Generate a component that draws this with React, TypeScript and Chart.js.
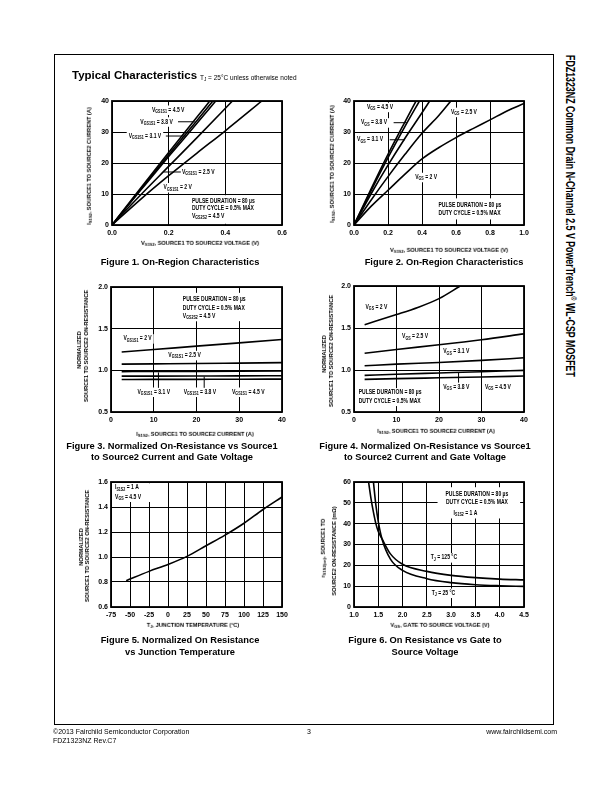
import React, { useEffect, useRef } from 'react';
import { Chart, registerables } from 'chart.js';
Chart.register(...registerables);

const FONT = '"Liberation Sans", Arial, Helvetica, sans-serif';

// ---------------- Figure 1: On-Region (V_GS2S2 = 4.5 V) ----------------
const fig1XTicks = [0, 0.2, 0.4, 0.6];
const fig1YTicks = [0, 10, 20, 30, 40];
const fig1Vgs45X = [0, 0.1, 0.2, 0.3, 0.345];
const fig1Vgs45Y = [0, 11.8, 23.4, 34.8, 40];
const fig1Vgs38X = [0, 0.1, 0.2, 0.3, 0.356];
const fig1Vgs38Y = [0, 11.4, 22.7, 33.7, 40];
const fig1Vgs31X = [0, 0.1, 0.2, 0.3, 0.366];
const fig1Vgs31Y = [0, 11.1, 22.1, 32.8, 40];
const fig1Vgs25X = [0, 0.1, 0.2, 0.3, 0.425];
const fig1Vgs25Y = [0, 9.6, 18.9, 28.2, 40];
const fig1Vgs20X = [0, 0.1, 0.2, 0.3, 0.4, 0.529];
const fig1Vgs20Y = [0, 8.2, 15.9, 23.2, 30.4, 40];

// ---------------- Figure 2: On-Region ----------------
const fig2XTicks = [0, 0.2, 0.4, 0.6, 0.8, 1.0];
const fig2YTicks = [0, 10, 20, 30, 40];
const fig2Vgs45X = [0, 0.1, 0.2, 0.3, 0.365];
const fig2Vgs45Y = [0, 11.6, 22.8, 33.3, 40];
const fig2Vgs38X = [0, 0.1, 0.2, 0.3, 0.385];
const fig2Vgs38Y = [0, 11.0, 21.7, 31.8, 40];
const fig2Vgs31X = [0, 0.1, 0.2, 0.3, 0.4, 0.445];
const fig2Vgs31Y = [0, 10.0, 19.3, 28.0, 36.2, 40];
const fig2Vgs25X = [0, 0.1, 0.2, 0.3, 0.4, 0.5, 0.57];
const fig2Vgs25Y = [0, 8.0, 15.6, 22.8, 29.6, 35.4, 40];
const fig2Vgs20X = [0, 0.1, 0.2, 0.3, 0.4, 0.5, 0.6, 0.7, 0.8, 0.9, 1.0];
const fig2Vgs20Y = [0, 6.0, 11.2, 16.4, 21.3, 25.0, 28.2, 31.1, 33.9, 36.8, 39.2];

// ---------------- Figure 3: Normalized R vs current (V_GS2S2 = 4.5 V) ----------------
const fig3XTicks = [0, 10, 20, 30, 40];
const fig3YTicks = [0.5, 1.0, 1.5, 2.0];
const fig3Current = [2.5, 10, 20, 30, 40];
const fig3Vgs20 = [1.22, 1.25, 1.29, 1.33, 1.37];
const fig3Vgs25 = [1.075, 1.078, 1.082, 1.087, 1.092];
const fig3Vgs31 = [0.985, 0.986, 0.988, 0.99, 0.992];
const fig3Vgs38 = [0.93, 0.931, 0.932, 0.933, 0.935];
const fig3Vgs45 = [0.89, 0.891, 0.892, 0.893, 0.895];

// ---------------- Figure 4: Normalized R vs current ----------------
const fig4XTicks = [0, 10, 20, 30, 40];
const fig4YTicks = [0.5, 1.0, 1.5, 2.0];
const fig4Vgs20X = [2.5, 5, 10, 15, 20, 25];
const fig4Vgs20Y = [1.54, 1.58, 1.66, 1.745, 1.85, 2.0];
const fig4Current = [2.5, 10, 20, 30, 40];
const fig4Vgs25 = [1.2, 1.245, 1.3, 1.36, 1.43];
const fig4Vgs31 = [1.05, 1.07, 1.09, 1.115, 1.145];
const fig4Vgs38 = [0.936, 0.95, 0.965, 0.98, 0.996];
const fig4Vgs45 = [0.888, 0.897, 0.907, 0.917, 0.928];

// ---------------- Figure 5: Normalized R vs T_J ----------------
const fig5XTicks = [-75, -50, -25, 0, 25, 50, 75, 100, 125, 150];
const fig5YTicks = [0.6, 0.8, 1.0, 1.2, 1.4, 1.6];
const fig5Temp = [-55, -25, 0, 25, 50, 75, 100, 125, 150];
const fig5Rnorm = [0.81, 0.885, 0.94, 1.005, 1.09, 1.175, 1.27, 1.38, 1.48];

// ---------------- Figure 6: R vs V_GS ----------------
const fig6XTicks = [1.0, 1.5, 2.0, 2.5, 3.0, 3.5, 4.0, 4.5];
const fig6YTicks = [0, 10, 20, 30, 40, 50, 60];
const fig6T125X = [1.3, 1.35, 1.4, 1.45, 1.5, 1.575, 1.75, 2.0, 2.5, 3.0, 3.5, 4.0, 4.5];
const fig6T125Y = [60, 52, 45.5, 40, 36.2, 32.8, 25.5, 20.5, 17.1, 15.2, 14.1, 13.4, 13.0];
const fig6T25X = [1.4, 1.45, 1.5, 1.575, 1.75, 2.0, 2.5, 3.0, 3.5, 4.0, 4.5];
const fig6T25Y = [60, 49, 41, 32.8, 23, 17.6, 13.6, 11.7, 10.7, 10.2, 9.9];

// ---------------------------------------------------------------
type Txt = { x: number; y: number; t: string; align?: 'left' | 'center' | 'right'; box?: boolean };
type Rect = [number, number, number, number];
type Seg = [number, number, number, number];
interface Fig {
  xs: number[][];
  ys: number[][];
  xTicks: number[];
  yTicks: number[];
  xDec: number;
  yDec: number;
  texts: Txt[];
  boxes: Rect[];
  leaders: Seg[];
}

const SZ = 6.3;
const SX = 0.8;

function parseRich(t: string): [string, boolean][] {
  const out: [string, boolean][] = [];
  const re = /_\{([^}]*)\}/g;
  let last = 0;
  let m: RegExpExecArray | null;
  while ((m = re.exec(t))) {
    if (m.index > last) out.push([t.slice(last, m.index), false]);
    out.push([m[1], true]);
    last = re.lastIndex;
  }
  if (last < t.length) out.push([t.slice(last), false]);
  return out;
}

function measureRich(ctx: CanvasRenderingContext2D, t: string) {
  let w = 0;
  for (const [s, sub] of parseRich(t)) {
    ctx.font = `bold ${sub ? SZ * 0.72 : SZ}px ${FONT}`;
    w += ctx.measureText(s).width * SX;
  }
  return w;
}

function drawRich(ctx: CanvasRenderingContext2D, t: string, px: number, py: number) {
  let x = px;
  ctx.textBaseline = 'middle';
  ctx.textAlign = 'left';
  ctx.fillStyle = '#000';
  for (const [s, sub] of parseRich(t)) {
    ctx.font = `bold ${sub ? SZ * 0.72 : SZ}px ${FONT}`;
    const w = ctx.measureText(s).width * SX;
    ctx.save();
    ctx.translate(x, py + (sub ? SZ * 0.3 : 0));
    ctx.scale(SX, 1);
    ctx.fillText(s, 0, 0);
    ctx.restore();
    x += w;
  }
}

function annot(fig: Fig) {
  const left = (ctx: CanvasRenderingContext2D, tx: Txt, px: number) => {
    const w = measureRich(ctx, tx.t);
    return { l: tx.align === 'center' ? px - w / 2 : tx.align === 'right' ? px - w : px, w };
  };
  return {
    id: 'annot',
    beforeDatasetsDraw(chart: any) {
      const { ctx, chartArea: ca } = chart;
      const xs = chart.scales.x;
      const ys = chart.scales.y;
      ctx.save();
      ctx.beginPath();
      ctx.rect(ca.left + 1, ca.top + 1, ca.width - 2, ca.height - 2);
      ctx.clip();
      ctx.fillStyle = '#fff';
      for (const [x1, y1, x2, y2] of fig.boxes) {
        const a = xs.getPixelForValue(x1);
        const b = xs.getPixelForValue(x2);
        const c = ys.getPixelForValue(y2);
        const d = ys.getPixelForValue(y1);
        ctx.fillRect(a, c, b - a, d - c);
      }
      for (const tx of fig.texts) {
        if (tx.box === false) continue;
        const px = xs.getPixelForValue(tx.x);
        const py = ys.getPixelForValue(tx.y);
        const { l, w } = left(ctx, tx, px);
        ctx.fillStyle = '#fff';
        ctx.fillRect(l - 2, py - 4.5, w + 4, 9.5);
      }
      ctx.restore();
    },
    afterDatasetsDraw(chart: any) {
      const { ctx, chartArea: ca } = chart;
      const xs = chart.scales.x;
      const ys = chart.scales.y;
      ctx.save();
      ctx.strokeStyle = '#000';
      ctx.lineWidth = 1;
      for (const [x1, y1, x2, y2] of fig.leaders) {
        ctx.beginPath();
        ctx.moveTo(xs.getPixelForValue(x1), ys.getPixelForValue(y1));
        ctx.lineTo(xs.getPixelForValue(x2), ys.getPixelForValue(y2));
        ctx.stroke();
      }
      for (const tx of fig.texts) {
        const px = xs.getPixelForValue(tx.x);
        const py = ys.getPixelForValue(tx.y);
        const { l } = left(ctx, tx, px);
        drawRich(ctx, tx.t, l, py);
      }
      ctx.lineWidth = 1.8;
      ctx.strokeRect(ca.left, ca.top, ca.width, ca.height);
      ctx.restore();
    },
  };
}

const PL = 2;
const AXW = 26;
const PT = 8;
const PR = 12;
const AXH = 16;
const PB = 2;

function Plot({ fig, l, t, w, h }: { fig: Fig; l: number; t: number; w: number; h: number }) {
  const ref = useRef<HTMLCanvasElement>(null);
  const W = w + AXW + PL + PR;
  const H = h + PT + AXH + PB;
  useEffect(() => {
    const c = ref.current!;
    const tickFont = { family: FONT, size: 7, weight: 'bold' as const };
    const chart = new Chart(c, {
      type: 'line',
      data: {
        datasets: fig.xs.map((xs, i) => ({
          data: xs.map((x, j) => ({ x, y: fig.ys[i][j] })),
          borderColor: '#000',
          borderWidth: 1.6,
          pointRadius: 0,
          fill: false,
          cubicInterpolationMode: 'monotone' as const,
        })),
      },
      options: {
        responsive: false,
        animation: false,
        devicePixelRatio: 1,
        events: [],
        layout: { padding: { left: PL, top: PT, right: PR, bottom: PB } },
        plugins: { legend: { display: false }, tooltip: { enabled: false } },
        scales: {
          x: {
            type: 'linear',
            min: fig.xTicks[0],
            max: fig.xTicks[fig.xTicks.length - 1],
            afterBuildTicks: (s: any) => {
              s.ticks = fig.xTicks.map((v) => ({ value: v }));
            },
            afterFit: (s: any) => {
              s.height = AXH;
            },
            grid: { color: '#000', lineWidth: 1, drawTicks: false },
            border: { display: false },
            ticks: {
              padding: 4,
              color: '#000',
              font: tickFont,
              maxRotation: 0,
              autoSkip: false,
              callback: (v: any) => Number(v).toFixed(fig.xDec),
            },
          },
          y: {
            type: 'linear',
            min: fig.yTicks[0],
            max: fig.yTicks[fig.yTicks.length - 1],
            afterBuildTicks: (s: any) => {
              s.ticks = fig.yTicks.map((v) => ({ value: v }));
            },
            afterFit: (s: any) => {
              s.width = AXW;
            },
            grid: { color: '#000', lineWidth: 1, drawTicks: false },
            border: { display: false },
            ticks: {
              padding: 3,
              color: '#000',
              font: tickFont,
              autoSkip: false,
              callback: (v: any) => Number(v).toFixed(fig.yDec),
            },
          },
        },
      } as any,
      plugins: [annot(fig)],
    });
    return () => chart.destroy();
  }, []);
  return (
    <canvas
      ref={ref}
      width={W}
      height={H}
      style={{ position: 'absolute', left: l - AXW - PL, top: t - PT, width: W, height: H }}
    />
  );
}

function Rich({ t }: { t: string }) {
  return (
    <>
      {parseRich(t).map(([s, sub], i) =>
        sub ? (
          <span key={i} style={{ fontSize: '0.72em', position: 'relative', top: '0.3em' }}>
            {s}
          </span>
        ) : (
          <span key={i}>{s}</span>
        )
      )}
    </>
  );
}

function Label({
  x,
  y,
  t,
  size,
  bold = true,
  rot = 0,
  sx = 1,
  anchor = 'center',
}: {
  x: number;
  y: number;
  t: string;
  size: number;
  bold?: boolean;
  rot?: number;
  sx?: number;
  anchor?: 'left' | 'center' | 'right';
}) {
  const tx = anchor === 'center' ? '-50%' : anchor === 'right' ? '-100%' : '0';
  return (
    <div
      style={{
        position: 'absolute',
        left: x,
        top: y,
        whiteSpace: 'nowrap',
        fontFamily: FONT,
        fontSize: size,
        fontWeight: bold ? 700 : 400,
        lineHeight: 1,
        color: '#000',
        willChange: 'transform',
        transform: `translate(${tx}, -50%) rotate(${rot}deg) scaleX(${sx})`,
        transformOrigin: anchor === 'left' ? '0 50%' : anchor === 'right' ? '100% 50%' : '50% 50%',
      }}
    >
      <Rich t={t} />
    </div>
  );
}

const fig1: Fig = {
  xs: [fig1Vgs45X, fig1Vgs38X, fig1Vgs31X, fig1Vgs25X, fig1Vgs20X],
  ys: [fig1Vgs45Y, fig1Vgs38Y, fig1Vgs31Y, fig1Vgs25Y, fig1Vgs20Y],
  xTicks: fig1XTicks,
  yTicks: fig1YTicks,
  xDec: 1,
  yDec: 0,
  texts: [
    { x: 0.141, y: 37.1, t: 'V_{GS1S1} = 4.5 V' },
    { x: 0.1, y: 33.3, t: 'V_{GS1S1} = 3.8 V' },
    { x: 0.059, y: 28.7, t: 'V_{GS1S1} = 3.1 V' },
    { x: 0.247, y: 17.1, t: 'V_{GS1S1} = 2.5 V' },
    { x: 0.182, y: 12.1, t: 'V_{GS1S1} = 2 V' },
    { x: 0.282, y: 7.8, t: 'PULSE DURATION = 80 µs' },
    { x: 0.282, y: 5.3, t: 'DUTY CYCLE = 0.5% MAX' },
    { x: 0.282, y: 2.9, t: 'V_{GS2S2} = 4.5 V' },
  ],
  boxes: [[0.268, 0.4, 0.6, 9.6]],
  leaders: [
    [0.233, 33.3, 0.292, 33.3],
    [0.19, 28.7, 0.262, 28.7],
    [0.182, 17.1, 0.243, 17.1],
  ],
};

const fig2: Fig = {
  xs: [fig2Vgs45X, fig2Vgs38X, fig2Vgs31X, fig2Vgs25X, fig2Vgs20X],
  ys: [fig2Vgs45Y, fig2Vgs38Y, fig2Vgs31Y, fig2Vgs25Y, fig2Vgs20Y],
  xTicks: fig2XTicks,
  yTicks: fig2YTicks,
  xDec: 1,
  yDec: 0,
  texts: [
    { x: 0.076, y: 38, t: 'V_{GS} = 4.5 V' },
    { x: 0.041, y: 33, t: 'V_{GS} = 3.8 V' },
    { x: 0.018, y: 27.5, t: 'V_{GS} = 3.1 V' },
    { x: 0.57, y: 36.4, t: 'V_{GS} = 2.5 V' },
    { x: 0.36, y: 15.4, t: 'V_{GS} = 2 V' },
    { x: 0.497, y: 6.4, t: 'PULSE DURATION = 80 µs' },
    { x: 0.497, y: 3.75, t: 'DUTY CYCLE = 0.5% MAX' },
  ],
  boxes: [[0.48, 1.8, 0.99, 8.6]],
  leaders: [
    [0.233, 33, 0.311, 33],
    [0.21, 27.5, 0.3, 27.5],
  ],
};

const fig3: Fig = {
  xs: [fig3Current, fig3Current, fig3Current, fig3Current, fig3Current],
  ys: [fig3Vgs20, fig3Vgs25, fig3Vgs31, fig3Vgs38, fig3Vgs45],
  xTicks: fig3XTicks,
  yTicks: fig3YTicks,
  xDec: 0,
  yDec: 1,
  texts: [
    { x: 16.8, y: 1.85, t: 'PULSE DURATION = 80 µs' },
    { x: 16.8, y: 1.75, t: 'DUTY CYCLE = 0.5% MAX' },
    { x: 16.8, y: 1.65, t: 'V_{GS2S2} = 4.5 V' },
    { x: 2.9, y: 1.38, t: 'V_{GS1S1} = 2 V' },
    { x: 13.4, y: 1.18, t: 'V_{GS1S1} = 2.5 V' },
    { x: 6.2, y: 0.74, t: 'V_{GS1S1} = 3.1 V' },
    { x: 17, y: 0.74, t: 'V_{GS1S1} = 3.8 V' },
    { x: 28.3, y: 0.74, t: 'V_{GS1S1} = 4.5 V' },
  ],
  boxes: [[16, 1.59, 39, 1.93]],
  leaders: [
    [11.1, 0.975, 11.1, 0.79],
    [21.8, 0.925, 21.8, 0.79],
  ],
};

const fig4: Fig = {
  xs: [fig4Vgs20X, fig4Current, fig4Current, fig4Current, fig4Current],
  ys: [fig4Vgs20Y, fig4Vgs25, fig4Vgs31, fig4Vgs38, fig4Vgs45],
  xTicks: fig4XTicks,
  yTicks: fig4YTicks,
  xDec: 0,
  yDec: 1,
  texts: [
    { x: 2.7, y: 1.75, t: 'V_{GS} = 2 V' },
    { x: 11.3, y: 1.4, t: 'V_{GS} = 2.5 V' },
    { x: 21, y: 1.22, t: 'V_{GS} = 3.1 V' },
    { x: 21, y: 0.8, t: 'V_{GS} = 3.8 V' },
    { x: 30.8, y: 0.8, t: 'V_{GS} = 4.5 V' },
    { x: 1.1, y: 0.73, t: 'PULSE DURATION = 80 µs' },
    { x: 1.1, y: 0.63, t: 'DUTY CYCLE = 0.5% MAX' },
  ],
  boxes: [[0.8, 0.59, 19.2, 0.78]],
  leaders: [[24.6, 0.97, 24.6, 0.85]],
};

const fig5: Fig = {
  xs: [fig5Temp],
  ys: [fig5Rnorm],
  xTicks: fig5XTicks,
  yTicks: fig5YTicks,
  xDec: 0,
  yDec: 1,
  texts: [
    { x: -69.7, y: 1.555, t: 'I_{S1S2} = 1 A' },
    { x: -69.7, y: 1.48, t: 'V_{GS} = 4.5 V' },
  ],
  boxes: [[-72, 1.44, -20, 1.59]],
  leaders: [],
};

const fig6: Fig = {
  xs: [fig6T125X, fig6T25X],
  ys: [fig6T125Y, fig6T25Y],
  xTicks: fig6XTicks,
  yTicks: fig6YTicks,
  xDec: 1,
  yDec: 0,
  texts: [
    { x: 3.53, y: 54.1, t: 'PULSE DURATION = 80 µs', align: 'center' },
    { x: 3.53, y: 50.1, t: 'DUTY CYCLE = 0.5% MAX', align: 'center' },
    { x: 3.05, y: 45.1, t: 'I_{S1S2} = 1 A' },
    { x: 2.58, y: 23.7, t: 'T_{J} = 125 °C' },
    { x: 2.6, y: 6.7, t: 'T_{J} = 25 °C' },
  ],
  boxes: [[2.72, 42.5, 4.42, 57.5]],
  leaders: [],
};

export default function App() {
  return (
    <div
      style={{
        position: 'absolute',
        left: 0,
        top: 0,
        width: 612,
        height: 792,
        background: '#fff',
        overflow: 'hidden',
        fontFamily: FONT,
      }}
    >
      {/* page frame */}
      <div
        style={{
          position: 'absolute',
          left: 54,
          top: 54,
          width: 500,
          height: 671,
          border: '1.3px solid #000',
          boxSizing: 'border-box',
        }}
      />
      {/* header */}
      <Label x={71.5} y={76} t="Typical Characteristics" size={11.5} anchor="left" />
      <Label x={200} y={77.8} t="T_{J} = 25°C unless otherwise noted" size={6.5} bold={false} anchor="left" />

      {/* side title */}
      <div
        style={{
          position: 'absolute',
          left: 575.5,
          top: 55,
          whiteSpace: 'nowrap',
          fontFamily: FONT,
          fontSize: 12,
          fontWeight: 700,
          lineHeight: '12px',
          transformOrigin: '0 0',
          transform: 'rotate(90deg) scaleX(0.735)',
        }}
      >
        FDZ1323NZ Common Drain N-Channel 2.5 V PowerTrench
        <span style={{ fontSize: '0.6em', position: 'relative', top: '-0.7em' }}>®</span> WL-CSP MOSFET
      </div>

      {/* Figure 1 */}
      <Plot fig={fig1} l={112} t={101} w={170} h={124} />
      <Label x={89.3} y={166} t="I_{S1S2}, SOURCE1 TO SOURCE2 CURRENT (A)" size={6} rot={-90} sx={0.93} />
      <Label x={199.5} y={243} t="V_{S1S2}, SOURCE1 TO SOURCE2 VOLTAGE (V)" size={6} sx={0.93} />
      <Label x={180.3} y={263.3} t="Figure 1.  On-Region Characteristics" size={9.3} />

      {/* Figure 2 */}
      <Plot fig={fig2} l={354} t={101} w={170} h={124} />
      <Label x={331.7} y={163.5} t="I_{S1S2}, SOURCE1 TO SOURCE2 CURRENT (A)" size={6} rot={-90} sx={0.93} />
      <Label x={449} y={250} t="V_{S1S2}, SOURCE1 TO SOURCE2 VOLTAGE (V)" size={6} sx={0.93} />
      <Label x={443.8} y={263.3} t="Figure 2. On-Region Characteristics" size={9.3} />

      {/* Figure 3 */}
      <Plot fig={fig3} l={111} t={287} w={171} h={125} />
      <Label x={79} y={350} t="NORMALIZED" size={6} rot={-90} sx={0.93} />
      <Label x={85.5} y={346} t="SOURCE1 TO SOURCE2 ON-RESISTANCE" size={6} rot={-90} sx={0.93} />
      <Label x={195.3} y={433.5} t="I_{S1S2}, SOURCE1 TO SOURCE2 CURRENT (A)" size={6} sx={0.93} />
      <Label x={172} y={446.5} t="Figure 3. Normalized On-Resistance vs Source1" size={9.3} />
      <Label x={172} y={457.5} t="to Source2 Current and Gate Voltage" size={9.3} />

      {/* Figure 4 */}
      <Plot fig={fig4} l={354} t={286} w={170} h={126} />
      <Label x={324.3} y={354} t="NORMALIZED" size={6} rot={-90} sx={0.93} />
      <Label x={330.5} y={351} t="SOURCE1 TO SOURCE2 ON-RESISTANCE" size={6} rot={-90} sx={0.93} />
      <Label x={436} y={431} t="I_{S1S2}, SOURCE1 TO SOURCE2 CURRENT (A)" size={6} sx={0.93} />
      <Label x={425} y={446.5} t="Figure 4.  Normalized On-Resistance vs Source1" size={9.3} />
      <Label x={425} y={457.5} t="to Source2 Current and Gate Voltage" size={9.3} />

      {/* Figure 5 */}
      <Plot fig={fig5} l={111} t={482} w={171} h={125} />
      <Label x={80.7} y={547} t="NORMALIZED" size={6} rot={-90} sx={0.93} />
      <Label x={86.7} y={546} t="SOURCE1 TO SOURCE2 ON-RESISTANCE" size={6} rot={-90} sx={0.93} />
      <Label x={193} y={625} t="T_{J}, JUNCTION TEMPERATURE (°C)" size={6} sx={0.93} />
      <Label x={180} y={641} t="Figure 5. Normalized On Resistance" size={9.3} />
      <Label x={180} y={652.5} t="vs Junction Temperature" size={9.3} />

      {/* Figure 6 */}
      <Plot fig={fig6} l={354} t={482} w={170} h={125} />
      <Label x={323.3} y={548} t="r_{S1S2(on)}, SOURCE1 TO" size={6} rot={-90} sx={0.93} />
      <Label x={334.3} y={551} t="SOURCE2 ON-RESISTANCE (mΩ)" size={6} rot={-90} sx={0.93} />
      <Label x={440} y={625} t="V_{GS}, GATE TO SOURCE VOLTAGE (V)" size={6} sx={0.93} />
      <Label x={425} y={641} t="Figure 6.  On Resistance vs Gate to" size={9.3} />
      <Label x={425} y={652.5} t="Source Voltage" size={9.3} />

      {/* footer */}
      <Label x={53} y={731} t="©2013 Fairchild Semiconductor Corporation" size={7} bold={false} anchor="left" />
      <Label x={53} y={739.6} t="FDZ1323NZ Rev.C7" size={7} bold={false} anchor="left" />
      <Label x={309} y={731} t="3" size={7} bold={false} />
      <Label x={556.5} y={731} t="www.fairchildsemi.com" size={7} bold={false} anchor="right" />
    </div>
  );
}
